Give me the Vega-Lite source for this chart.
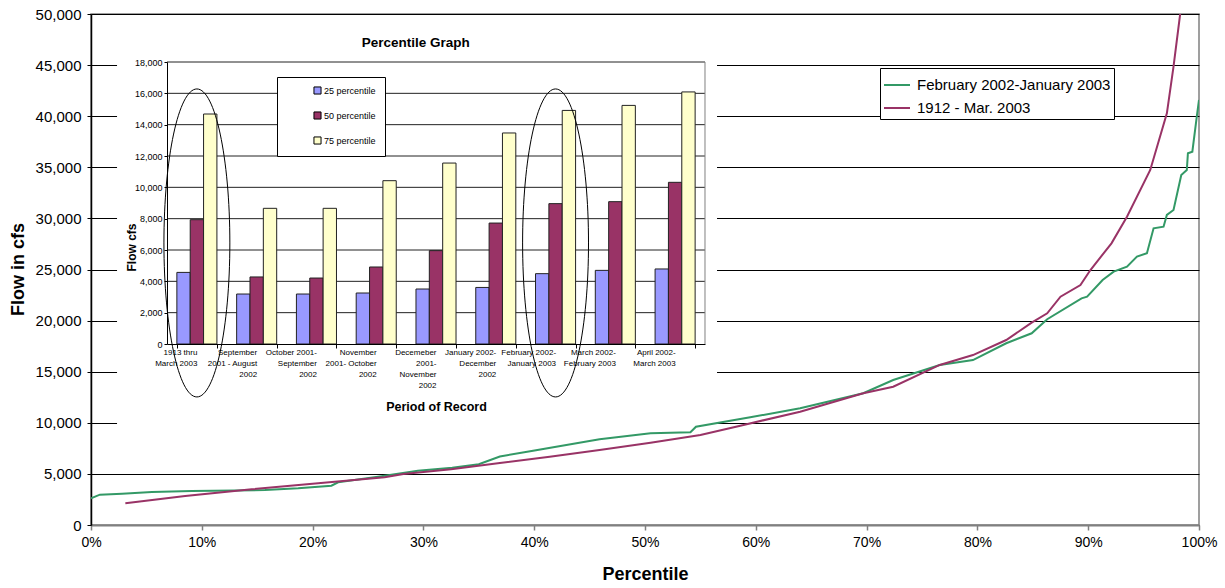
{
  "$schema": "https://vega.github.io/schema/vega-lite/v6.json",
  "width": 1108,
  "height": 511,
  "autosize": {"type": "none"},
  "padding": {"left": 91, "top": 14, "right": 26, "bottom": 63},
  "background": "white",
  "config": {
    "font": "Liberation Sans",
    "view": {"stroke": "#808080", "strokeWidth": 1.5}
  },
  "datasets": {
    "curves": [
      {"series": "February 2002-January 2003", "pct": 0, "flow": 2620},
      {"series": "February 2002-January 2003", "pct": 0.8, "flow": 2970},
      {"series": "February 2002-January 2003", "pct": 2.8, "flow": 3060},
      {"series": "February 2002-January 2003", "pct": 5.5, "flow": 3230},
      {"series": "February 2002-January 2003", "pct": 9.1, "flow": 3330},
      {"series": "February 2002-January 2003", "pct": 15.7, "flow": 3420},
      {"series": "February 2002-January 2003", "pct": 18.7, "flow": 3590},
      {"series": "February 2002-January 2003", "pct": 21.7, "flow": 3850},
      {"series": "February 2002-January 2003", "pct": 22.3, "flow": 4180},
      {"series": "February 2002-January 2003", "pct": 25.9, "flow": 4730},
      {"series": "February 2002-January 2003", "pct": 29.5, "flow": 5310},
      {"series": "February 2002-January 2003", "pct": 32.6, "flow": 5610},
      {"series": "February 2002-January 2003", "pct": 35.0, "flow": 5940},
      {"series": "February 2002-January 2003", "pct": 36.9, "flow": 6700},
      {"series": "February 2002-January 2003", "pct": 39.9, "flow": 7270},
      {"series": "February 2002-January 2003", "pct": 45.9, "flow": 8390},
      {"series": "February 2002-January 2003", "pct": 50.5, "flow": 8970},
      {"series": "February 2002-January 2003", "pct": 54.1, "flow": 9070},
      {"series": "February 2002-January 2003", "pct": 54.6, "flow": 9620},
      {"series": "February 2002-January 2003", "pct": 59.5, "flow": 10540},
      {"series": "February 2002-January 2003", "pct": 64.0, "flow": 11420},
      {"series": "February 2002-January 2003", "pct": 69.7, "flow": 12890},
      {"series": "February 2002-January 2003", "pct": 72.4, "flow": 14190},
      {"series": "February 2002-January 2003", "pct": 76.6, "flow": 15660},
      {"series": "February 2002-January 2003", "pct": 79.6, "flow": 16140},
      {"series": "February 2002-January 2003", "pct": 82.6, "flow": 17780},
      {"series": "February 2002-January 2003", "pct": 84.9, "flow": 18760},
      {"series": "February 2002-January 2003", "pct": 86.3, "flow": 20130},
      {"series": "February 2002-January 2003", "pct": 89.4, "flow": 22180},
      {"series": "February 2002-January 2003", "pct": 89.9, "flow": 22340},
      {"series": "February 2002-January 2003", "pct": 91.3, "flow": 23970},
      {"series": "February 2002-January 2003", "pct": 92.3, "flow": 24790},
      {"series": "February 2002-January 2003", "pct": 93.5, "flow": 25280},
      {"series": "February 2002-January 2003", "pct": 94.4, "flow": 26260},
      {"series": "February 2002-January 2003", "pct": 95.3, "flow": 26590},
      {"series": "February 2002-January 2003", "pct": 95.9, "flow": 29030},
      {"series": "February 2002-January 2003", "pct": 96.8, "flow": 29190},
      {"series": "February 2002-January 2003", "pct": 97.1, "flow": 30340},
      {"series": "February 2002-January 2003", "pct": 97.7, "flow": 30820},
      {"series": "February 2002-January 2003", "pct": 98.4, "flow": 34250},
      {"series": "February 2002-January 2003", "pct": 98.9, "flow": 34740},
      {"series": "February 2002-January 2003", "pct": 99.0, "flow": 36370},
      {"series": "February 2002-January 2003", "pct": 99.4, "flow": 36530},
      {"series": "February 2002-January 2003", "pct": 99.8, "flow": 39950},
      {"series": "February 2002-January 2003", "pct": 100, "flow": 41590},
      {"series": "1912 - Mar. 2003", "pct": 3.1, "flow": 2120},
      {"series": "1912 - Mar. 2003", "pct": 8.5, "flow": 2840},
      {"series": "1912 - Mar. 2003", "pct": 14.5, "flow": 3490},
      {"series": "1912 - Mar. 2003", "pct": 20.5, "flow": 4080},
      {"series": "1912 - Mar. 2003", "pct": 26.5, "flow": 4670},
      {"series": "1912 - Mar. 2003", "pct": 28.2, "flow": 5000},
      {"series": "1912 - Mar. 2003", "pct": 32.5, "flow": 5450},
      {"series": "1912 - Mar. 2003", "pct": 36.9, "flow": 6070},
      {"series": "1912 - Mar. 2003", "pct": 41.4, "flow": 6680},
      {"series": "1912 - Mar. 2003", "pct": 45.9, "flow": 7340},
      {"series": "1912 - Mar. 2003", "pct": 50.5, "flow": 8050},
      {"series": "1912 - Mar. 2003", "pct": 55.0, "flow": 8800},
      {"series": "1912 - Mar. 2003", "pct": 58.6, "flow": 9716},
      {"series": "1912 - Mar. 2003", "pct": 64.0, "flow": 11090},
      {"series": "1912 - Mar. 2003", "pct": 69.7, "flow": 12890},
      {"series": "1912 - Mar. 2003", "pct": 72.4, "flow": 13530},
      {"series": "1912 - Mar. 2003", "pct": 76.6, "flow": 15660},
      {"series": "1912 - Mar. 2003", "pct": 79.6, "flow": 16630},
      {"series": "1912 - Mar. 2003", "pct": 82.6, "flow": 18100},
      {"series": "1912 - Mar. 2003", "pct": 84.9, "flow": 19800},
      {"series": "1912 - Mar. 2003", "pct": 86.3, "flow": 20710},
      {"series": "1912 - Mar. 2003", "pct": 87.5, "flow": 22340},
      {"series": "1912 - Mar. 2003", "pct": 89.3, "flow": 23480},
      {"series": "1912 - Mar. 2003", "pct": 90.2, "flow": 24950},
      {"series": "1912 - Mar. 2003", "pct": 92.1, "flow": 27560},
      {"series": "1912 - Mar. 2003", "pct": 93.5, "flow": 30170},
      {"series": "1912 - Mar. 2003", "pct": 95.6, "flow": 34740},
      {"series": "1912 - Mar. 2003", "pct": 97.1, "flow": 40280},
      {"series": "1912 - Mar. 2003", "pct": 97.7, "flow": 44850},
      {"series": "1912 - Mar. 2003", "pct": 98.3, "flow": 50000},
      {"series": "1912 - Mar. 2003", "pct": 98.6, "flow": 53000}
    ],
    "bars": [
      {"period": "1913 thru\nMarch 2003", "pct": "25 percentile", "flow": 4570},
      {"period": "1913 thru\nMarch 2003", "pct": "50 percentile", "flow": 7935},
      {"period": "1913 thru\nMarch 2003", "pct": "75 percentile", "flow": 14680},
      {"period": "September\n2001 - August\n2002", "pct": "25 percentile", "flow": 3190},
      {"period": "September\n2001 - August\n2002", "pct": "50 percentile", "flow": 4280},
      {"period": "September\n2001 - August\n2002", "pct": "75 percentile", "flow": 8660},
      {"period": "October 2001-\nSeptember\n2002", "pct": "25 percentile", "flow": 3190},
      {"period": "October 2001-\nSeptember\n2002", "pct": "50 percentile", "flow": 4210},
      {"period": "October 2001-\nSeptember\n2002", "pct": "75 percentile", "flow": 8660},
      {"period": "November\n2001- October\n2002", "pct": "25 percentile", "flow": 3255},
      {"period": "November\n2001- October\n2002", "pct": "50 percentile", "flow": 4915},
      {"period": "November\n2001- October\n2002", "pct": "75 percentile", "flow": 10425},
      {"period": "Decemeber\n2001-\nNovember\n2002", "pct": "25 percentile", "flow": 3510},
      {"period": "Decemeber\n2001-\nNovember\n2002", "pct": "50 percentile", "flow": 5960},
      {"period": "Decemeber\n2001-\nNovember\n2002", "pct": "75 percentile", "flow": 11550},
      {"period": "January 2002-\nDecember\n2002", "pct": "25 percentile", "flow": 3610},
      {"period": "January 2002-\nDecember\n2002", "pct": "50 percentile", "flow": 7720},
      {"period": "January 2002-\nDecember\n2002", "pct": "75 percentile", "flow": 13470},
      {"period": "February 2002-\nJanuary 2003", "pct": "25 percentile", "flow": 4490},
      {"period": "February 2002-\nJanuary 2003", "pct": "50 percentile", "flow": 8960},
      {"period": "February 2002-\nJanuary 2003", "pct": "75 percentile", "flow": 14910},
      {"period": "March  2002-\nFebruary 2003", "pct": "25 percentile", "flow": 4700},
      {"period": "March  2002-\nFebruary 2003", "pct": "50 percentile", "flow": 9085},
      {"period": "March  2002-\nFebruary 2003", "pct": "75 percentile", "flow": 15230},
      {"period": "April 2002-\nMarch 2003", "pct": "25 percentile", "flow": 4790},
      {"period": "April 2002-\nMarch 2003", "pct": "50 percentile", "flow": 10320},
      {"period": "April 2002-\nMarch 2003", "pct": "75 percentile", "flow": 16090}
    ],
    "insetGrid": [
      {"flow": 2000}, {"flow": 4000}, {"flow": 6000}, {"flow": 8000}, {"flow": 10000},
      {"flow": 12000}, {"flow": 14000}, {"flow": 16000}, {"flow": 18000}
    ],
    "highlight": [
      {"period": "1913 thru\nMarch 2003"},
      {"period": "February 2002-\nJanuary 2003"}
    ]
  },
  "layer": [
    {
      "layer": [
        {
          "data": {"values": [{}]},
          "mark": {"type": "rect", "fill": "white"},
          "encoding": {
            "x": {"datum": 2.35, "type": "quantitative"},
            "x2": {"datum": 56.5},
            "y": {"datum": 9400, "type": "quantitative"},
            "y2": {"datum": 49800}
          }
        },
        {
          "data": {"name": "curves"},
          "mark": {"type": "line", "strokeWidth": 2, "clip": true},
          "encoding": {
            "x": {
              "field": "pct", "type": "quantitative",
              "scale": {"domain": [0, 100], "nice": false},
              "axis": {
                "values": [0, 10, 20, 30, 40, 50, 60, 70, 80, 90, 100],
                "labelExpr": "datum.value + '%'",
                "grid": false,
                "labelFlush": false,
                "labelOverlap": false,
                "domainColor": "#808080", "domainWidth": 2,
                "tickColor": "#808080", "tickSize": 5, "tickWidth": 1.5,
                "labelFontSize": 14, "labelColor": "#000", "labelPadding": 5,
                "title": "Percentile", "titleFontSize": 18, "titleFontWeight": "bold",
                "titleColor": "#000", "titleY": 49, "titleBaseline": "middle"
              }
            },
            "y": {
              "field": "flow", "type": "quantitative",
              "scale": {"domain": [0, 50000], "nice": false},
              "axis": {
                "values": [0, 5000, 10000, 15000, 20000, 25000, 30000, 35000, 40000, 45000, 50000],
                "format": ",d",
                "grid": true, "gridColor": "#000", "gridWidth": 1, "gridOpacity": 1,
                "domainColor": "#000", "domainWidth": 1.5,
                "tickColor": "#000", "tickSize": 4,
                "labelFontSize": 15, "labelColor": "#000", "labelPadding": 6,
                "labelFlush": false, "labelOverlap": false,
                "title": "Flow in cfs", "titleFontSize": 18, "titleFontWeight": "bold",
                "titleColor": "#000", "titleX": -73, "titleY": 255, "titleBaseline": "middle", "titleAlign": "center"
              }
            },
            "stroke": {
              "field": "series", "type": "nominal",
              "scale": {"domain": ["February 2002-January 2003", "1912 - Mar. 2003"], "range": ["#339966", "#993366"]},
              "legend": {
                "orient": "none", "legendX": 789, "legendY": 54,
                "title": null, "strokeColor": "#000", "fillColor": "white",
                "padding": 3, "labelFontSize": 15, "labelColor": "#000", "labelLimit": 0,
                "symbolType": "stroke", "symbolSize": 676, "symbolStrokeWidth": 2,
                "rowPadding": 1, "labelOffset": 6
              }
            }
          }
        },
        {
          "data": {"values": [{}]},
          "mark": {"type": "text", "text": "Percentile Graph", "fontSize": 13.5, "fontWeight": "bold", "align": "center", "baseline": "middle", "color": "#000"},
          "encoding": {
            "x": {"datum": 29.3, "type": "quantitative"},
            "y": {"datum": 47150, "type": "quantitative"}
          }
        }
      ]
    },
    {
      "layer": [
        {
          "data": {"name": "insetGrid"},
          "mark": {"type": "rule", "color": "#222", "strokeWidth": 1},
          "encoding": {
            "x": {"datum": "1913 thru\nMarch 2003", "type": "nominal", "bandPosition": -0.246},
            "x2": {"datum": "April 2002-\nMarch 2003", "bandPosition": 1.246},
            "y": {"field": "flow", "type": "quantitative"}
          }
        },
        {
          "data": {"values": [{}]},
          "mark": {"type": "rule", "color": "#808080", "strokeWidth": 1},
          "encoding": {
            "x": {"datum": "April 2002-\nMarch 2003", "type": "nominal", "bandPosition": 1.246},
            "y": {"datum": 0, "type": "quantitative"},
            "y2": {"datum": 18000}
          }
        },
        {
          "data": {"name": "bars"},
          "mark": {"type": "bar", "stroke": "#222", "strokeWidth": 1},
          "encoding": {
            "x": {
              "field": "period", "type": "nominal", "sort": null,
              "scale": {
                "domain": ["1913 thru\nMarch 2003", "September\n2001 - August\n2002", "October 2001-\nSeptember\n2002", "November\n2001- October\n2002", "Decemeber\n2001-\nNovember\n2002", "January 2002-\nDecember\n2002", "February 2002-\nJanuary 2003", "March  2002-\nFebruary 2003", "April 2002-\nMarch 2003"],
                "range": [76, 614], "paddingInner": 0.33, "paddingOuter": 0.165
              },
              "axis": {
                "orient": "bottom", "offset": -181, "zindex": 1,
                "labelExpr": "split(datum.label, '\\n')",
                "labelFontSize": 8, "labelLineHeight": 11, "labelAngle": 0,
                "labelPadding": 4, "labelColor": "#000", "labelLimit": 0,
                "tickBand": "extent", "tickSize": 4, "tickColor": "#000",
                "domainColor": "#000", "grid": false,
                "title": "Period of Record", "titleFontSize": 12.5, "titleFontWeight": "bold",
                "titleColor": "#000", "titleY": 62, "titleBaseline": "middle"
              }
            },
            "xOffset": {"field": "pct", "type": "nominal", "sort": ["25 percentile", "50 percentile", "75 percentile"]},
            "y": {
              "field": "flow", "type": "quantitative",
              "scale": {"domain": [0, 18000], "range": [330, 48], "nice": false},
              "axis": {
                "orient": "left", "offset": -76, "zindex": 1,
                "values": [0, 2000, 4000, 6000, 8000, 10000, 12000, 14000, 16000, 18000],
                "format": ",d", "grid": false,
                "labelFontSize": 9, "labelColor": "#000", "labelPadding": 2,
                "tickSize": 3, "tickColor": "#000", "domainColor": "#000",
                "title": "Flow cfs", "titleFontSize": 12, "titleFontWeight": "bold",
                "titleColor": "#000", "titleX": -36, "titleY": 233, "titleBaseline": "middle", "titleAlign": "center"
              }
            },
            "fill": {
              "field": "pct", "type": "nominal",
              "scale": {"domain": ["25 percentile", "50 percentile", "75 percentile"], "range": ["#9999FF", "#993366", "#FFFFCC"]},
              "legend": {
                "orient": "none", "legendX": 186, "legendY": 63,
                "title": null, "strokeColor": "#000", "fillColor": "white",
                "padding": 9, "labelFontSize": 9, "labelColor": "#000",
                "symbolType": "square", "symbolSize": 50, "symbolStrokeColor": "#000", "symbolStrokeWidth": 1,
                "rowPadding": 12, "labelOffset": 2, "symbolOffset": 27
              }
            }
          }
        },
        {
          "data": {"name": "highlight"},
          "mark": {
            "type": "point",
            "shape": "M0,-1C0.1182,-1 0.214,-0.5523 0.214,0C0.214,0.5523 0.1182,1 0,1C-0.1182,1 -0.214,0.5523 -0.214,0C-0.214,-0.5523 -0.1182,-1 0,-1Z",
            "size": 94864, "filled": false, "stroke": "#000", "strokeWidth": 1, "opacity": 1
          },
          "encoding": {
            "x": {"field": "period", "type": "nominal"},
            "y": {"datum": 6450, "type": "quantitative"}
          }
        }
      ]
    }
  ],
  "resolve": {
    "scale": {"x": "independent", "y": "independent"},
    "axis": {"x": "independent", "y": "independent"}
  }
}
